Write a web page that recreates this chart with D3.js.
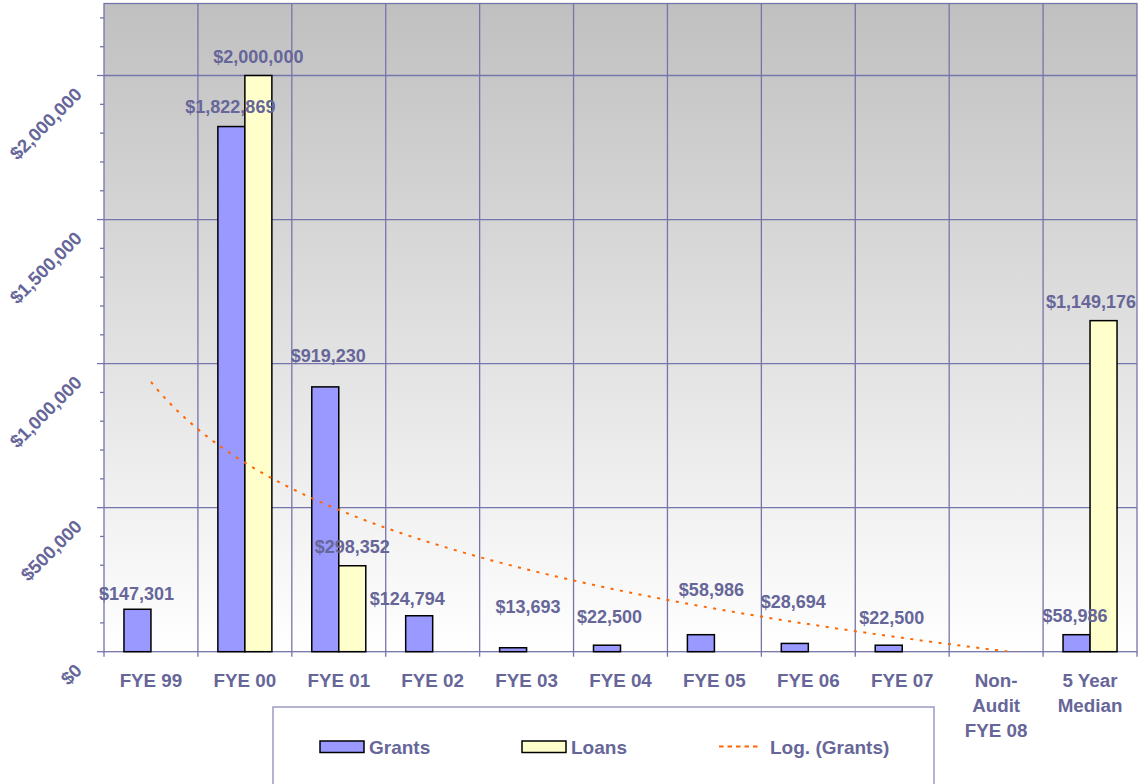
<!DOCTYPE html>
<html>
<head>
<meta charset="utf-8">
<script src="https://cdn.jsdelivr.net/npm/d3@7"></script>
<style>
  body { margin: 0; background: #ffffff; }
  svg { display: block; }
  text { font-family: "Liberation Sans", Arial, Helvetica, sans-serif; font-weight: bold; fill: #666699; }
</style>
</head>
<body>
<svg id="chart" width="1142" height="784"></svg>
<script>
// ---- data ----
const categories = ["FYE 99", "FYE 00", "FYE 01", "FYE 02", "FYE 03", "FYE 04",
                    "FYE 05", "FYE 06", "FYE 07", "Non-Audit FYE 08", "5 Year Median"];
const categoryLines = [["FYE 99"], ["FYE 00"], ["FYE 01"], ["FYE 02"], ["FYE 03"], ["FYE 04"],
                       ["FYE 05"], ["FYE 06"], ["FYE 07"], ["Non-", "Audit", "FYE 08"], ["5 Year", "Median"]];
const grants = [147301, 1822869, 919230, 124794, 13693, 22500, 58986, 28694, 22500, null, 58986];
const loans  = [null, 2000000, 298352, null, null, null, null, null, null, null, 1149176];
const seriesNames = ["Grants", "Loans"];
const trendName = "Log. (Grants)";
const yTicks = [0, 500000, 1000000, 1500000, 2000000];
const yMax = 2250000;

// ---- layout ----
const plot = { left: 104, right: 1137, top: 3.5, bottom: 651.7 };
const colors = { Grants: "#9999ff", Loans: "#ffffcc", trend: "#ff6600", grid: "#7575aa", text: "#666699" };

// hand-placed label nudges [dx, lift above bar top]
const grantLabelShift = [[-1, 9], [-1, 13.5], [3, 25], [-12, 11], [15, 35], [2.5, 22],
                         [10.5, 38.7], [-1.5, 35.7], [3, 21], null, [-1.5, 13]];
const loanLabelShift  = [null, [0, 12.5], [0, 12.8], null, null, null, null, null, null, null, [-12.5, 12.7]];

const svg = d3.select("#chart");
const fmt = v => "$" + d3.format(",")(v);

const x = d3.scaleBand().domain(categories).range([plot.left, plot.right]).paddingInner(0).paddingOuter(0);
const xs = d3.scaleBand().domain(seriesNames).range([0, x.bandwidth()]).paddingInner(0).paddingOuter(0.739);
const y = d3.scaleLinear().domain([0, yMax]).range([plot.bottom, plot.top]);

// plot background gradient
const defs = svg.append("defs");
const grad = defs.append("linearGradient").attr("id", "bg").attr("x1", 0).attr("y1", 0).attr("x2", 0).attr("y2", 1);
grad.append("stop").attr("offset", "0%").attr("stop-color", "#c0c0c0");
grad.append("stop").attr("offset", "100%").attr("stop-color", "#ffffff");
defs.append("clipPath").attr("id", "plotClip").append("rect")
  .attr("x", plot.left).attr("y", plot.top)
  .attr("width", plot.right - plot.left).attr("height", plot.bottom - plot.top);

svg.append("rect")
  .attr("x", plot.left).attr("y", plot.top)
  .attr("width", plot.right - plot.left).attr("height", plot.bottom - plot.top)
  .attr("fill", "url(#bg)");

// horizontal gridlines
svg.append("g").selectAll("line").data(yTicks.filter(v => v > 0)).join("line")
  .attr("x1", plot.left).attr("x2", plot.right)
  .attr("y1", d => y(d)).attr("y2", d => y(d))
  .attr("stroke", colors.grid).attr("stroke-width", 1.3);

// vertical gridlines at category boundaries
svg.append("g").selectAll("line").data(categories.slice(1)).join("line")
  .attr("x1", d => x(d)).attr("x2", d => x(d))
  .attr("y1", plot.top).attr("y2", plot.bottom)
  .attr("stroke", colors.grid).attr("stroke-width", 1.3);

// plot border
svg.append("rect")
  .attr("x", plot.left).attr("y", plot.top)
  .attr("width", plot.right - plot.left).attr("height", plot.bottom - plot.top)
  .attr("fill", "none").attr("stroke", colors.grid).attr("stroke-width", 1.3);

// y-axis ticks (minor every 100k, major at labelled values)
const minorTicks = d3.range(0, yMax + 1, 100000);
svg.append("g").selectAll("line").data(minorTicks).join("line")
  .attr("x1", d => yTicks.includes(d) ? plot.left - 7 : plot.left - 4).attr("x2", plot.left)
  .attr("y1", d => y(d)).attr("y2", d => y(d))
  .attr("stroke", colors.grid).attr("stroke-width", 1.3);

// y-axis labels, rotated
svg.append("g").selectAll("text").data(yTicks).join("text")
  .attr("transform", d => `translate(83,${y(d) + 20}) rotate(-45)`)
  .attr("text-anchor", "end")
  .style("font-size", "18.5px")
  .text(fmt);

// x-axis ticks
svg.append("g").selectAll("line").data(categories.concat([null])).join("line")
  .attr("x1", d => d === null ? plot.right : x(d)).attr("x2", d => d === null ? plot.right : x(d))
  .attr("y1", plot.bottom).attr("y2", plot.bottom + 5)
  .attr("stroke", colors.grid).attr("stroke-width", 1.3);

// x-axis labels
const xl = svg.append("g").selectAll("text").data(categories).join("text")
  .attr("text-anchor", "middle")
  .attr("x", d => x(d) + x.bandwidth() / 2)
  .attr("y", 686.7)
  .style("font-size", "18.8px");
xl.selectAll("tspan").data((d, i) => categoryLines[i]).join("tspan")
  .attr("x", function () { return d3.select(this.parentNode).attr("x"); })
  .attr("dy", (d, j) => j === 0 ? 0 : 25)
  .text(d => d);

// bars
const barData = [];
categories.forEach((c, i) => {
  if (grants[i] != null) barData.push({ c, s: "Grants", v: grants[i], shift: grantLabelShift[i] });
  if (loans[i] != null) barData.push({ c, s: "Loans", v: loans[i], shift: loanLabelShift[i] });
});
svg.append("g").selectAll("rect").data(barData).join("rect")
  .attr("x", d => x(d.c) + xs(d.s))
  .attr("width", xs.bandwidth())
  .attr("y", d => y(d.v))
  .attr("height", d => y(0) - y(d.v))
  .attr("fill", d => colors[d.s])
  .attr("stroke", "#000000").attr("stroke-width", 1.5);

// logarithmic trendline fitted to grants (x = 1..n, blanks skipped)
const pts = grants.map((v, i) => [i + 1, v]).filter(p => p[1] != null);
const lx = pts.map(p => Math.log(p[0]));
const mx = d3.mean(lx), my = d3.mean(pts, p => p[1]);
const sxy = d3.sum(pts, (p, i) => (lx[i] - mx) * (p[1] - my));
const sxx = d3.sum(lx, l => (l - mx) * (l - mx));
const slope = sxy / sxx, intercept = my - slope * mx;
const xIdx = d3.scaleLinear().domain([1, categories.length])
  .range([x(categories[0]) + x.bandwidth() / 2, x(categories[categories.length - 1]) + x.bandwidth() / 2]);
const trendPts = d3.range(1, categories.length + 0.001, 0.02).map(t => [t, intercept + slope * Math.log(t)]);
svg.append("path")
  .datum(trendPts)
  .attr("clip-path", "url(#plotClip)")
  .attr("d", d3.line().x(d => xIdx(d[0])).y(d => y(d[1])))
  .attr("fill", "none")
  .attr("stroke", colors.trend).attr("stroke-width", 2)
  .attr("stroke-dasharray", "3,6.5");

// value labels
svg.append("g").selectAll("text").data(barData).join("text")
  .attr("text-anchor", "middle")
  .attr("x", d => x(d.c) + xs(d.s) + xs.bandwidth() / 2 + d.shift[0])
  .attr("y", d => y(d.v) - d.shift[1])
  .style("font-size", "18px")
  .text(d => fmt(d.v));

// legend
const lg = svg.append("g");
lg.append("rect").attr("x", 273).attr("y", 707).attr("width", 661).attr("height", 100)
  .attr("fill", "#ffffff").attr("stroke", "#9a9ac4").attr("stroke-width", 1.5);
const legendItems = [
  { name: seriesNames[0], type: "bar", color: colors.Grants, x: 320 },
  { name: seriesNames[1], type: "bar", color: colors.Loans, x: 522 },
  { name: trendName, type: "line", color: colors.trend, x: 719 }
];
legendItems.forEach(it => {
  if (it.type === "bar") {
    lg.append("rect").attr("x", it.x).attr("y", 741).attr("width", 44).attr("height", 11.5)
      .attr("fill", it.color).attr("stroke", "#000").attr("stroke-width", 1.5);
    lg.append("text").attr("x", it.x + 49).attr("y", 754).style("font-size", "19px").text(it.name);
  } else {
    lg.append("line").attr("x1", it.x).attr("x2", it.x + 42).attr("y1", 746.5).attr("y2", 746.5)
      .attr("stroke", it.color).attr("stroke-width", 2).attr("stroke-dasharray", "4.5,4");
    lg.append("text").attr("x", it.x + 51).attr("y", 754).style("font-size", "19px").text(it.name);
  }
});
</script>
</body>
</html>
